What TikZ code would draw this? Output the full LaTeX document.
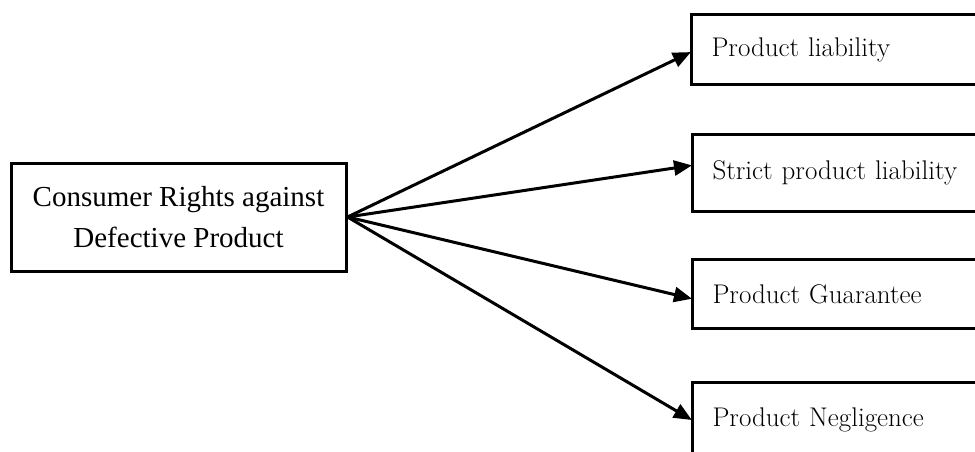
\documentclass[tikz,border=0pt]{standalone}
\usepackage{fontspec}
\newfontfamily\timesfont{Liberation Serif}
\usetikzlibrary{arrows.meta}
\tikzset{
  srcbox/.style={draw, line width=3pt, minimum width=335pt, minimum height=108pt, align=center, inner sep=0pt,
    font=\timesfont\fontsize{29}{41}\selectfont},
  outbox/.style={draw, line width=3pt, anchor=north west, minimum width=330pt, text width=290pt,
    inner xsep=20pt, inner ysep=0pt, align=left, font=\fontsize{27}{32}\selectfont},
  link/.style={line width=3pt, -{Triangle[length=18pt,width=15pt]}, shorten >=-1pt}
}
\begin{document}
\begin{tikzpicture}[x=1pt,y=-1pt]
\useasboundingbox (0,0) rectangle (975,452);
\clip (0,0) rectangle (975,452);
\node[srcbox] (L) at (178.5,217) {Consumer Rights against\\Defective Product};
\node[outbox, minimum height=70pt] (B1) at (690,13) {Product liability};
\node[outbox, minimum height=77pt] (B2) at (691,133) {Strict product liability};
\node[outbox, minimum height=69pt] (B3) at (691,258) {Product Guarantee};
\node[outbox, minimum height=74pt] (B4) at (691,381) {Product Negligence};
\draw[link] (L.east) -- ([yshift=-3pt]B1.west);
\draw[link] (L.east) -- ([yshift=7.5pt]B2.west);
\draw[link] (L.east) -- ([yshift=-4.5pt]B3.west);
\draw[link] (L.east) -- (B4.west);
\end{tikzpicture}
\end{document}
